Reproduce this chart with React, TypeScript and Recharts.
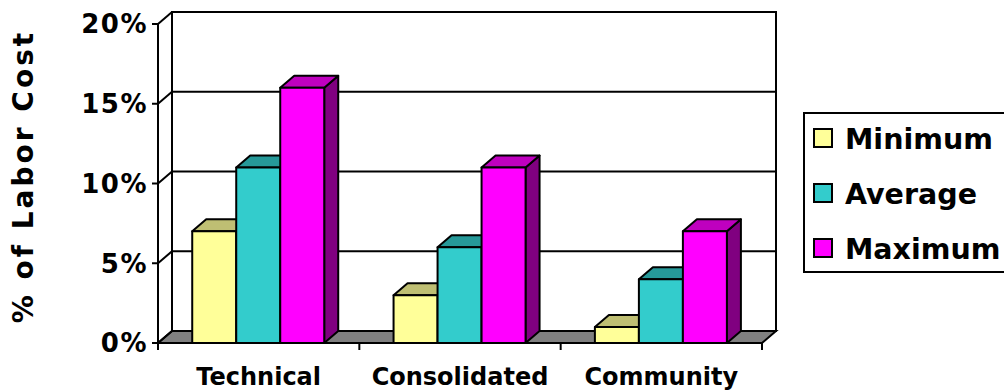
import { Bar, BarChart, CartesianGrid, Label, XAxis, YAxis } from 'recharts'

const CATEGORIES = ['Technical', 'Consolidated', 'Community']
const MINIMUM = [7, 3, 1]
const AVERAGE = [11, 6, 4]
const MAXIMUM = [16, 11, 7]
const Y_TICKS = [0, 5, 10, 15, 20]

const FONT = '"DejaVu Sans", Verdana, sans-serif'
// depth of the fake 3d box
const DX = 14
const DY = 12

const SERIES = [
  { key: 'minimum', name: 'Minimum', front: '#FFFF99', top: '#BFBF73', side: '#80804D' },
  { key: 'average', name: 'Average', front: '#33CCCC', top: '#269999', side: '#1A6666' },
  { key: 'maximum', name: 'Maximum', front: '#FF00FF', top: '#BF00BF', side: '#800080' },
]

const data = CATEGORIES.map((name, i) => ({
  name,
  minimum: MINIMUM[i],
  average: AVERAGE[i],
  maximum: MAXIMUM[i],
}))

function Box3D(props: any) {
  const { x, y, width, height, front, top, side } = props
  if (x == null || width == null || height == null) return null
  const x2 = x + width
  const yb = y + height
  return (
    <g stroke="#000" strokeWidth={2} strokeLinejoin="round">
      <polygon points={`${x2},${y} ${x2 + DX},${y - DY} ${x2 + DX},${yb - DY} ${x2},${yb}`} fill={side} />
      <polygon points={`${x},${y} ${x + DX},${y - DY} ${x2 + DX},${y - DY} ${x2},${y}`} fill={top} />
      <rect x={x} y={y} width={width} height={height} fill={front} />
    </g>
  )
}

// back wall, floor and gridlines, all hung off the grid's horizontal lines
function WallLine(props: any) {
  const { x1, x2, y1, index, horizontalPoints } = props
  const pts: number[] = horizontalPoints ?? [y1]
  const yTop = props.y ?? Math.min(...pts)
  const yBottom = props.height != null && props.y != null ? props.y + props.height : Math.max(...pts)
  return (
    <g key={`wall-${index}`} stroke="#000" strokeWidth={2}>
      {index === 0 && (
        <>
          <rect x={x1 + DX} y={yTop - DY} width={x2 - x1} height={yBottom - yTop} fill="#fff" />
          <polygon
            points={`${x1},${yBottom} ${x1 + DX},${yBottom - DY} ${x2 + DX},${yBottom - DY} ${x2},${yBottom}`}
            fill="#808080"
          />
        </>
      )}
      <line x1={x1} y1={y1} x2={x1 + DX} y2={y1 - DY} />
      <line x1={x1 + DX} y1={y1 - DY} x2={x2 + DX} y2={y1 - DY} />
    </g>
  )
}

function XTick(props: any) {
  const { x, y, payload, index, visibleTicksCount, width } = props
  const half = payload?.offset || width / visibleTicksCount / 2
  return (
    <g>
      <line x1={x - half} y1={y} x2={x - half} y2={y + 7} stroke="#000" strokeWidth={2} />
      {index === visibleTicksCount - 1 && (
        <line x1={x + half} y1={y} x2={x + half} y2={y + 7} stroke="#000" strokeWidth={2} />
      )}
      <text x={x} y={y + 42} textAnchor="middle" fontSize={24} fontWeight="bold" fontFamily={FONT} fill="#000">
        {payload.value}
      </text>
    </g>
  )
}

function YTick(props: any) {
  const { x, y, payload } = props
  return (
    <text
      x={x}
      y={y}
      dy="0.36em"
      textAnchor="end"
      fontSize={26}
      fontWeight="bold"
      fontFamily={FONT}
      letterSpacing={1.5}
      fill="#000"
    >
      {payload.value}%
    </text>
  )
}

function YTitle(props: any) {
  const { viewBox } = props
  const cx = viewBox.x + 33
  const cy = viewBox.y + viewBox.height / 2 - 7
  return (
    <text
      x={cx}
      y={cy}
      transform={`rotate(-90 ${cx} ${cy})`}
      textAnchor="middle"
      fontSize={28}
      fontWeight="bold"
      fontFamily={FONT}
      letterSpacing={3}
      fill="#000"
    >
      % of Labor Cost
    </text>
  )
}

// legend box runs off the right edge of the picture, as in the original
function LegendBox() {
  return (
    <div
      style={{
        position: 'absolute',
        left: 803,
        top: 112,
        width: 260,
        height: 161,
        boxSizing: 'border-box',
        borderTop: '2px solid #000',
        borderBottom: '2px solid #000',
        borderLeft: '2px solid #000',
        background: '#fff',
        fontFamily: FONT,
      }}
    >
      {SERIES.map((s, i) => (
        <div
          key={s.key}
          style={{ position: 'absolute', left: 8, top: 14 + i * 55, height: 20, display: 'flex', alignItems: 'center' }}
        >
          <span
            style={{
              width: 20,
              height: 20,
              boxSizing: 'border-box',
              border: '2px solid #000',
              background: s.front,
            }}
          />
          <span
            style={{
              marginLeft: 12,
              fontSize: 28.5,
              fontWeight: 'bold',
              lineHeight: '20px',
              position: 'relative',
              top: 2,
              whiteSpace: 'nowrap',
            }}
          >
            {s.name}
          </span>
        </div>
      ))}
    </div>
  )
}

export default function App() {
  return (
    <div style={{ position: 'absolute', left: 0, top: 0, width: 1004, height: 390, overflow: 'hidden', background: '#fff' }}>
      <BarChart
        width={1004}
        height={390}
        data={data}
        margin={{ top: 24, right: 242, bottom: 0, left: 0 }}
        barCategoryGap="17%"
        barGap={0}
      >
        <CartesianGrid vertical={false} horizontal={(p: any) => <WallLine {...p} />} />
        <XAxis
          dataKey="name"
          height={47}
          tickSize={0}
          tickMargin={0}
          tickLine={false}
          axisLine={{ stroke: '#000', strokeWidth: 2 }}
          tick={(p: any) => <XTick {...p} />}
          interval={0}
        />
        <YAxis
          width={158}
          domain={[0, 20]}
          ticks={Y_TICKS}
          interval={0}
          tickSize={6}
          tickMargin={4}
          tickLine={{ stroke: '#000', strokeWidth: 2 }}
          axisLine={{ stroke: '#000', strokeWidth: 2 }}
          tick={(p: any) => <YTick {...p} />}
        >
          <Label content={(p: any) => <YTitle {...p} />} />
        </YAxis>
        {SERIES.map((s) => (
          <Bar
            key={s.key}
            dataKey={s.key}
            name={s.name}
            fill={s.front}
            isAnimationActive={false}
            shape={(p: any) => <Box3D {...p} front={s.front} top={s.top} side={s.side} />}
          />
        ))}
      </BarChart>
      <LegendBox />
    </div>
  )
}
